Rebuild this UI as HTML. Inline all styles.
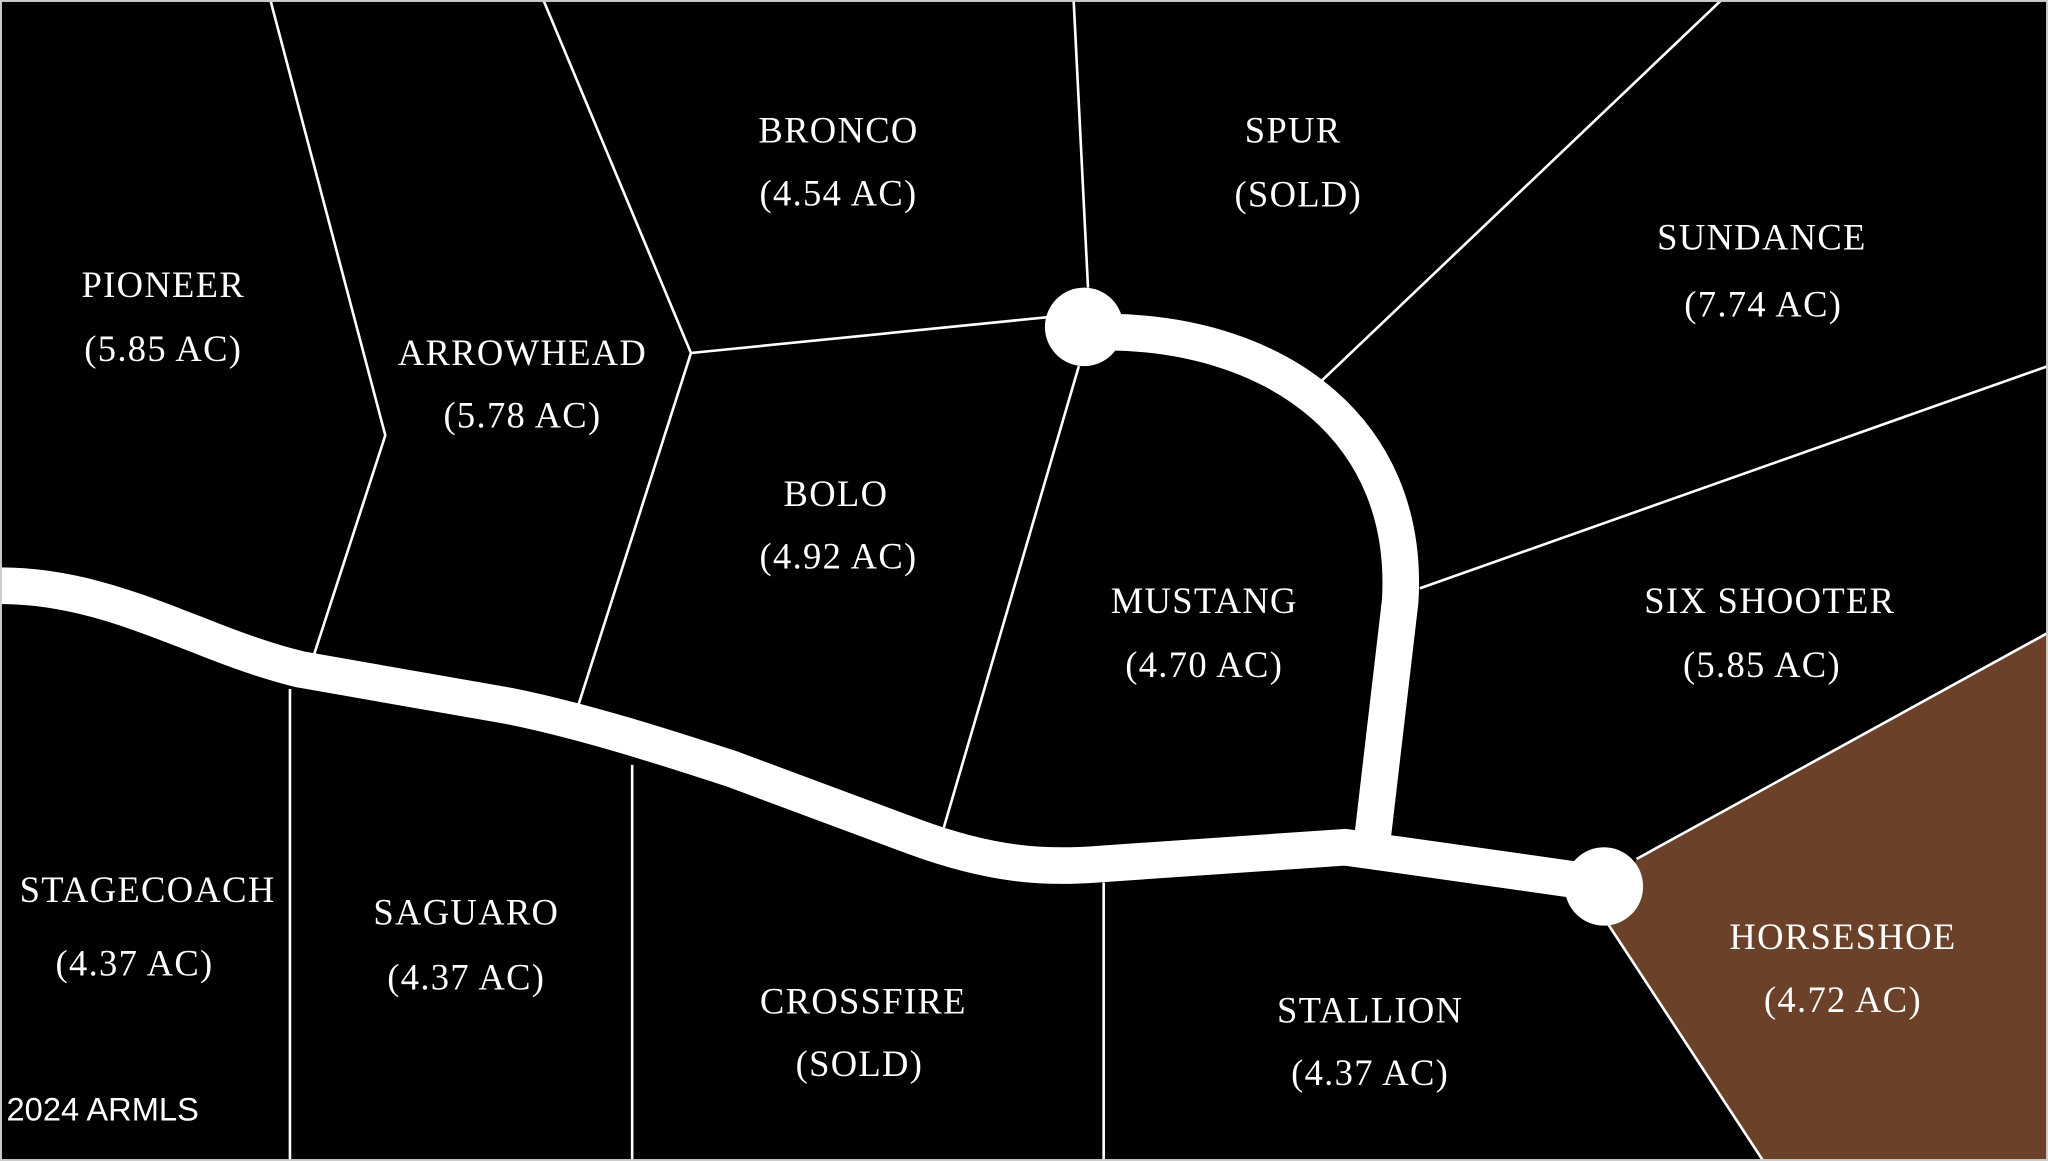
<!DOCTYPE html>
<html><head><meta charset="utf-8"><style>
html,body{margin:0;padding:0;background:#000;}
svg{display:block;}
text{font-family:"Liberation Serif",serif;font-size:28px;fill:#fff;text-anchor:middle;letter-spacing:1px;}
</style></head><body>
<svg width="2048" height="1161" viewBox="0 0 1568 888" preserveAspectRatio="none" xmlns="http://www.w3.org/2000/svg">
<rect x="0" y="0" width="1568" height="888" fill="#000"/>
<polygon points="1253,657 1568,484 1568,888 1350,888 1230,705" fill="#6b412a"/>
<g stroke="#fff" stroke-width="2" fill="none">
<polyline points="207,0 295,333 240,502"/>
<polyline points="416,0 529,270 441,545"/>
<line x1="529" y1="270" x2="808" y2="242"/>
<line x1="822" y1="0" x2="833" y2="220"/>
<line x1="826" y1="280" x2="722" y2="635"/>
<line x1="1318" y1="0" x2="1010" y2="293"/>
<line x1="1568" y1="280" x2="1087" y2="450"/>
<line x1="1568" y1="484" x2="1253" y2="657"/>
<line x1="1230" y1="705" x2="1350" y2="888"/>
<line x1="222" y1="527" x2="222" y2="888"/>
<line x1="484" y1="585" x2="484" y2="888"/>
<line x1="845" y1="675" x2="845" y2="888"/>
</g>
<g stroke="#fff" stroke-width="28" fill="none" stroke-linejoin="round">
<path d="M0,448 C60,448 110,470 150,485 C180,497 205,506 230,512 L390,540 C450,552 520,575 560,588 L700,640 C760,662 800,664 840,661 L1030,648 L1228,676"/>
<path d="M1050,648 L1072,460 C1080,330 980,256 850,254"/>
</g>
<circle cx="830" cy="250" r="30" fill="#fff"/>
<circle cx="1228" cy="678" r="30" fill="#fff"/>
<rect x="0.5" y="0.5" width="1567" height="887" fill="none" stroke="#ccc" stroke-width="2"/>
<text x="125" y="227">PIONEER</text><text x="125" y="276">(5.85 AC)</text>
<text x="400" y="279">ARROWHEAD</text><text x="400" y="327">(5.78 AC)</text>
<text x="642" y="109">BRONCO</text><text x="642" y="157">(4.54 AC)</text>
<text x="990" y="109">SPUR</text><text x="994" y="158">(SOLD)</text>
<text x="1349" y="191">SUNDANCE</text><text x="1350" y="242">(7.74 AC)</text>
<text x="640" y="387">BOLO</text><text x="642" y="435">(4.92 AC)</text>
<text x="922" y="469">MUSTANG</text><text x="922" y="518">(4.70 AC)</text>
<text x="1355" y="469">SIX SHOOTER</text><text x="1349" y="518">(5.85 AC)</text>
<text x="113" y="690">STAGECOACH</text><text x="103" y="746">(4.37 AC)</text>
<text x="357" y="707">SAGUARO</text><text x="357" y="757">(4.37 AC)</text>
<text x="661" y="775">CROSSFIRE</text><text x="658" y="823">(SOLD)</text>
<text x="1049" y="782">STALLION</text><text x="1049" y="830">(4.37 AC)</text>
<text x="1411" y="726">HORSESHOE</text><text x="1411" y="774">(4.72 AC)</text>
<text x="5" y="857" style="font-family:'Liberation Sans',sans-serif;font-size:25px;text-anchor:start;letter-spacing:0">2024 ARMLS</text>
</svg>
</body></html>
